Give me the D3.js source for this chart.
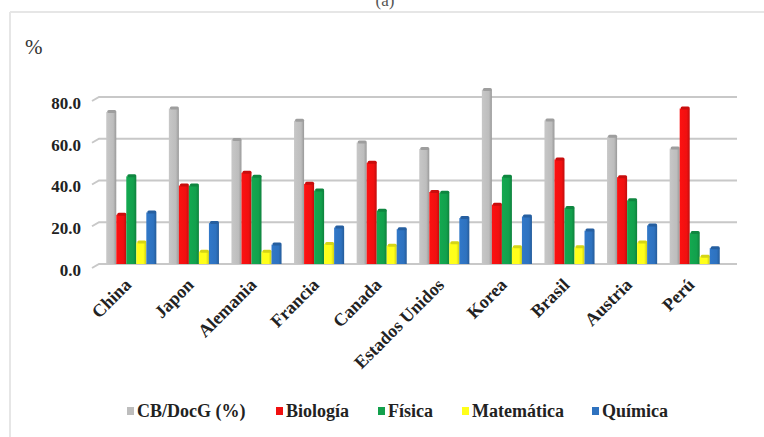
<!DOCTYPE html>
<html>
<head>
<meta charset="utf-8">
<script src="https://cdn.jsdelivr.net/npm/d3@7"></script>
<style>
  html, body { margin: 0; padding: 0; background: #fff; }
  svg { display: block; }
  .serif { font-family: "Liberation Serif", "Times New Roman", Tinos, "DejaVu Serif", "Noto Serif", serif; }
</style>
</head>
<body>
<svg id="chart" width="764" height="437"></svg>
<script>
// Countries and the share (%) for each indicator
const countries = ["China", "Japon", "Alemania", "Francia", "Canada", "Estados Unidos", "Korea", "Brasil", "Austria", "Perú"];
const seriesNames = ["CB/DocG (%)", "Biología", "Física", "Matemática", "Química"];
const cbDocG     = [72.8, 74.5, 59.4, 68.6, 58.2, 55.1, 83.4, 68.8, 61.0, 55.3];
const biologia   = [23.6, 37.6, 43.7, 38.4, 48.5, 34.5, 28.4, 50.1, 41.6, 74.5];
const fisica     = [42.0, 37.6, 41.8, 35.2, 25.5, 34.1, 41.8, 26.8, 30.5, 14.8];
const matematica = [10.3,  5.9,  5.9,  9.6,  8.8, 10.0,  8.0,  8.0, 10.3,  3.5];
const quimica    = [24.7, 19.6,  9.3, 17.5, 16.7, 22.0, 22.8, 16.0, 18.5,  7.6];
const yTicks = [0, 20, 40, 60, 80];
const colors = ["#bdbdbd", "#f01010", "#12a04c", "#ffff1a", "#2e72bf"];

const seriesValues = [cbDocG, biologia, fisica, matematica, quimica];

const svg = d3.select("#chart");

// Outer frame lines
svg.append("line").attr("x1", 10).attr("y1", 12).attr("x2", 764).attr("y2", 12)
  .attr("stroke", "#e6e6e6").attr("stroke-width", 2);
svg.append("line").attr("x1", 10).attr("y1", 12).attr("x2", 10).attr("y2", 437)
  .attr("stroke", "#e6e6e6").attr("stroke-width", 2);
svg.append("text").attr("class", "serif").attr("x", 385).attr("y", 6).attr("text-anchor", "middle")
  .attr("font-size", 17).attr("fill", "#555").text("(a)");

// Scales
const x0 = d3.scaleBand().domain(countries).range([100, 726]).paddingInner(0.2).paddingOuter(0.1);
const x1 = d3.scaleBand().domain(d3.range(seriesNames.length)).range([0, x0.bandwidth()]);
const y = d3.scaleLinear().domain([0, 80]).range([264, 97]);

// Gridlines on the back wall
const grid = svg.append("g");
yTicks.forEach(t => {
  grid.append("path")
    .attr("d", `M92,${y(t) + 4} L99,${y(t)} L737,${y(t)}`)
    .attr("fill", "none").attr("stroke", "#c8c8c8").attr("stroke-width", 2);
});

// Y axis labels
const yAxis = d3.axisLeft(y).tickValues(yTicks).tickFormat(d3.format(".1f")).tickSize(0).tickPadding(0);
const yg = svg.append("g").attr("transform", "translate(81,6)").call(yAxis);
yg.select(".domain").remove();
yg.selectAll("text").attr("class", "serif").attr("font-weight", "bold")
  .attr("font-size", 17).attr("fill", "#222");

svg.append("text").attr("class", "serif").attr("x", 25).attr("y", 54)
  .attr("font-size", 21).attr("fill", "#333").text("%");

// Shading gradients for bars (lit on the left, darker on the right)
const defs = svg.append("defs");
colors.forEach((c, i) => {
  const g = defs.append("linearGradient").attr("id", "g" + i)
    .attr("x1", "0").attr("x2", "1").attr("y1", "0").attr("y2", "0");
  g.append("stop").attr("offset", "0").attr("stop-color", d3.color(c).brighter(0.15));
  g.append("stop").attr("offset", "0.7").attr("stop-color", c);
  g.append("stop").attr("offset", "1").attr("stop-color", d3.color(c).darker(0.6));
});

// Bars
const groups = svg.append("g").selectAll("g").data(countries).join("g")
  .attr("transform", d => `translate(${x0(d)},0)`);
groups.each(function(country, ci) {
  const g = d3.select(this);
  seriesValues.forEach((vals, si) => {
    const v = vals[ci];
    const bx = x1(si), bw = x1.bandwidth();
    g.append("rect")
      .attr("x", bx).attr("y", y(v))
      .attr("width", bw).attr("height", y(0) - y(v))
      .attr("fill", `url(#g${si})`);
    // top cap
    g.append("rect")
      .attr("x", bx + 1).attr("y", y(v) - 2)
      .attr("width", bw - 1).attr("height", 3)
      .attr("rx", 1.5)
      .attr("fill", d3.color(colors[si]).darker(0.5));
  });
});

// Category labels, rotated
const xAxis = svg.append("g");
countries.forEach(c => {
  xAxis.append("text").attr("class", "serif")
    .attr("transform", `translate(${x0(c) + x0.bandwidth() / 2 + 1},286) rotate(-45)`)
    .attr("text-anchor", "end")
    .attr("font-weight", "bold")
    .attr("font-size", 18).attr("fill", "#222").text(c);
});

// Legend
const legendSq = [127, 276, 378, 462, 592];
const legend = svg.append("g");
seriesNames.forEach((n, i) => {
  legend.append("rect").attr("x", legendSq[i]).attr("y", 407).attr("width", 7).attr("height", 8)
    .attr("fill", colors[i]);
  legend.append("text").attr("class", "serif").attr("x", legendSq[i] + 10).attr("y", 417)
    .attr("font-weight", "bold")
    .attr("font-size", 18).attr("fill", "#222").text(n);
});
</script>
</body>
</html>
